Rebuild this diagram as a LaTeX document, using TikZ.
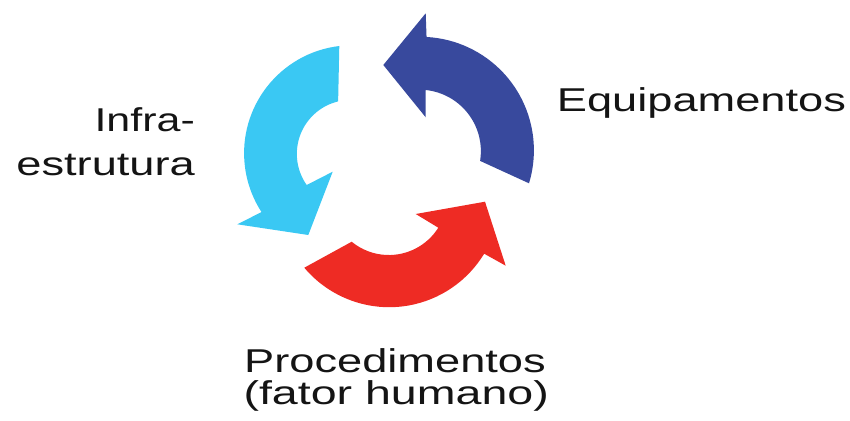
\documentclass[tikz,border=0pt]{standalone}
\usepackage{fontspec}
\setmainfont{Liberation Sans}[FakeStretch=1.37]
\definecolor{lblue}{HTML}{3AC8F3}
\definecolor{dblue}{HTML}{38499D}
\definecolor{rred}{HTML}{EE2B24}
\begin{document}
\begin{tikzpicture}[x=1pt,y=-1pt,
  lab/.style={inner sep=0pt, font=\fontsize{33}{40}\selectfont, text=black!92}]
\useasboundingbox (0,0) rectangle (850,420);
% light blue arrow (Infra-estrutura)
\fill[lblue] (339.3,46) arc[start angle=263.2, end angle=147, radius=108]
  -- (237.3,224.3) -- (308.3,235) -- (332.7,171.7) -- (306.7,185)
  arc[start angle=144.8, end angle=256.4, radius=54] -- cycle;
% dark blue arrow (Equipamentos)
\fill[dblue] (529,183.3) arc[start angle=16.9, end angle=-86.9, radius=113.5]
  -- (425.7,13.3) -- (383.3,65) -- (425.7,117.3) -- (425.7,90)
  arc[start angle=-84.1, end angle=9.1, radius=61.5] -- cycle;
% red arrow (Procedimentos)
\fill[rred] (304.3,267.7) arc[start angle=139.9, end angle=31.2, radius=111]
  -- (505.7,265.7) -- (485,201.7) -- (415.7,214) -- (438.3,227.7)
  arc[start angle=32.2, end angle=129.4, radius=58.5] -- cycle;
% labels
\node[lab, anchor=base east] (infra) at (195,131.7) {\scalebox{0.95}[1]{Infra-}};
\node[lab, anchor=base east] (estr) at (195,175) {estrutura};
\node[lab, anchor=base west] (equip) at (556.7,111) {Equipamentos};
\node[lab, anchor=base west] (proc) at (244,372.3) {Procedimentos};
\node[lab, anchor=base west] (fator) at (243.3,404.3) {\scalebox{1.03}[1]{(fator humano)}};
\end{tikzpicture}
\end{document}
